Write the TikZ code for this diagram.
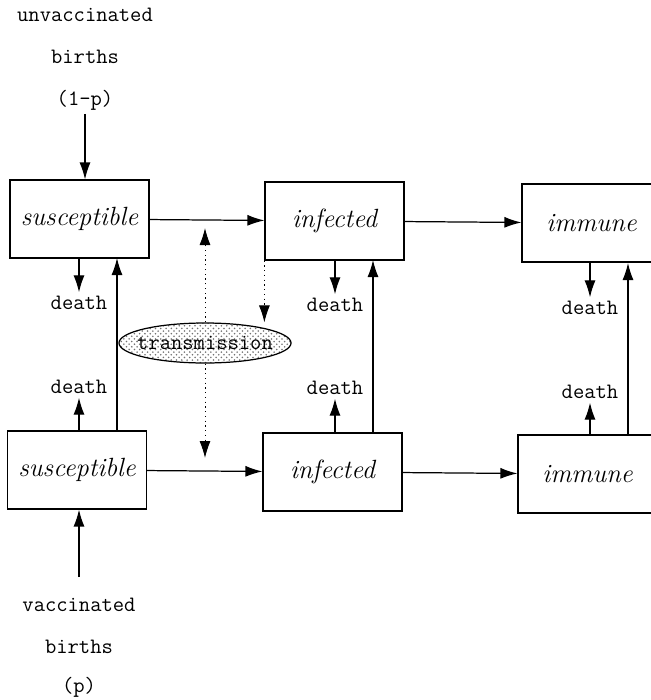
\documentclass[tikz,border=0pt]{standalone}
\usepackage{tikz}
\usetikzlibrary{arrows.meta,calc,patterns,shapes.geometric}
\tikzset{
	state/.style={draw, line width=0.7pt, minimum width=2.78cm, minimum height=1.56cm,
			font=\fontsize{15}{17}\selectfont\itshape},
	lbl/.style={font=\fontsize{12.5}{14}\selectfont\ttfamily, inner sep=2pt},
	arr/.style={-{Latex[length=3.4mm,width=2.2mm]}, line width=0.7pt},
	infl/.style={arr, dotted, line width=0.5pt}
}

\begin{document}
\begin{tikzpicture}[x=0.02cm, y=-0.02cm]
		\useasboundingbox (0, 0) rectangle (651, 700);
		\clip (0, 0) rectangle (651, 700);
		% compartments
		\node[state] (susc1) at (79.5, 219) {susceptible};
		\node[state] (inf1) at (334.5, 221) {infected};
		\node[state] (imm1) at (591.5, 223) {immune};
		\node[state] (susc2) at (77, 470) {susceptible};
		\node[state] (inf2) at (332.5, 472) {infected};
		\node[state] (imm2) at (587.5, 474) {immune};
		\node[ellipse, draw, line width=0.7pt, pattern=crosshatch dots, pattern color=black!55,
			minimum width=3.42cm, minimum height=0.8cm, lbl, inner xsep=-4pt, inner ysep=0pt] (trans) at (205, 343) {transmission};
		% births
		\node[lbl] (unv) at (85, 15) {unvaccinated};
		\node[lbl] (ubir) at (85, 57) {births};
		\node[lbl] (up) at (85, 100) {(1-p)};
		\node[lbl] (vac) at (79, 605) {vaccinated};
		\node[lbl] (vbir) at (79, 647) {births};
		\node[lbl] (vp) at (79, 687) {(p)};
		\coordinate (vin) at (79, 577);
		\draw[arr] (up.south) -- (up.south |- susc1.north);
		\draw[arr] (vin) -- (vin |- susc2.south);
		% deaths
		\node[lbl] (ds1) at (79, 303) {death};
		\node[lbl] (ds2) at (79, 387) {death};
		\node[lbl] (di1) at (335, 305) {death};
		\node[lbl] (di2) at (335, 388) {death};
		\node[lbl] (dm1) at (590, 308) {death};
		\node[lbl] (dm2) at (590, 392) {death};
		\draw[arr] (ds1 |- susc1.south) -- (ds1);
		\draw[arr] (ds2 |- susc2.north) -- (ds2);
		\draw[arr] (di1 |- inf1.south) -- (di1);
		\draw[arr] (di2 |- inf2.north) -- (di2);
		\draw[arr] (dm1 |- imm1.south) -- (dm1);
		\draw[arr] (dm2 |- imm2.north) -- (dm2);
		% vaccinated to unvaccinated
		\coordinate (us) at (117, 258);
		\coordinate (ui) at (373, 260);
		\coordinate (um) at (628, 263);
		\draw[arr] (us |- susc2.north) -- (us);
		\draw[arr] (ui |- inf2.north) -- (ui);
		\draw[arr] (um |- imm2.north) -- (um);
		% progression
		\draw[arr] (susc1) -- (inf1);
		\draw[arr] (inf1) -- (imm1);
		\draw[arr] (susc2) -- (inf2);
		\draw[arr] (inf2) -- (imm2);
		% transmission
		\coordinate (t1) at (205, 228);
		\coordinate (t2) at (205, 458);
		\draw[infl] (inf1.south west) -- (trans.north -| inf1.south west);
		\draw[infl] (trans.north) -- (t1);
		\draw[infl] (trans.south) -- (t2);
	\end{tikzpicture}
\end{document}
